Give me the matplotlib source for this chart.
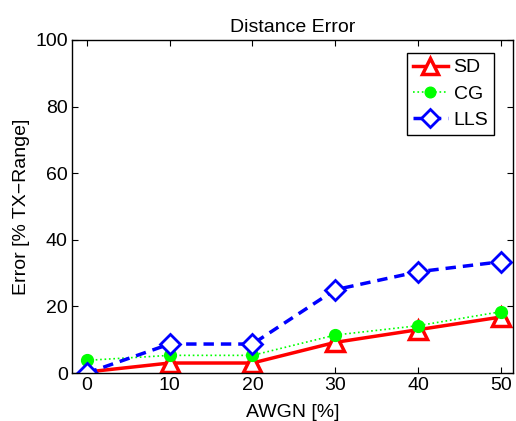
import matplotlib
matplotlib.use('Agg')
import matplotlib.pyplot as plt

awgn = [0, 10, 20, 30, 40, 50]
sd = [0.3, 3.0, 3.0, 9.2, 13.0, 16.8]
cg = [3.8, 5.3, 5.3, 11.4, 14.2, 18.4]
lls = [0.0, 8.7, 8.7, 25.0, 30.4, 33.4]

plt.rcParams['font.family'] = ['Liberation Sans', 'DejaVu Sans']
plt.rcParams['font.size'] = 14

fig = plt.figure(figsize=(5.16, 4.21), dpi=100)
ax = fig.add_axes([0.1395, 0.114, 0.855, 0.791])

ax.plot(awgn, sd, color='red', linestyle='-', linewidth=2.5,
        marker='^', markersize=13, markerfacecolor='white',
        markeredgecolor='red', markeredgewidth=2.5, label='SD')
ax.plot(awgn, cg, color='#00ff00', linestyle=':', linewidth=1.2,
        marker='o', markersize=8.5, markerfacecolor='#00ff00',
        markeredgecolor='#00ff00', label='CG')
ax.plot(awgn, lls, color='blue', linestyle='--', linewidth=2.5,
        dashes=(3, 2), marker='D', markersize=10, markerfacecolor='white',
        markeredgecolor='blue', markeredgewidth=2, label='LLS')

ax.set_xlim(-1.8, 51.5)
ax.set_ylim(0, 100)
ax.set_xticks(awgn)
ax.set_yticks([0, 20, 40, 60, 80, 100])
ax.tick_params(direction='in', top=True, right=True, length=4, labelsize=14, pad=3)
for s in ax.spines.values():
    s.set_linewidth(1.0)

ax.set_title('Distance Error', fontsize=14, pad=6)
ax.set_xlabel('AWGN [%]', fontsize=14, labelpad=7)
ax.set_ylabel('Error [% TX\u2212Range]', fontsize=14, labelpad=4)

leg = ax.legend(loc='upper right', bbox_to_anchor=(0.957, 0.961), borderaxespad=0,
                fancybox=False, edgecolor='black', framealpha=1, fontsize=14,
                handlelength=1.8, borderpad=0.3, labelspacing=0.45,
                handletextpad=0.3, markerscale=0.9)
leg.get_frame().set_linewidth(1.0)

fig.savefig('out.png', dpi=100)
